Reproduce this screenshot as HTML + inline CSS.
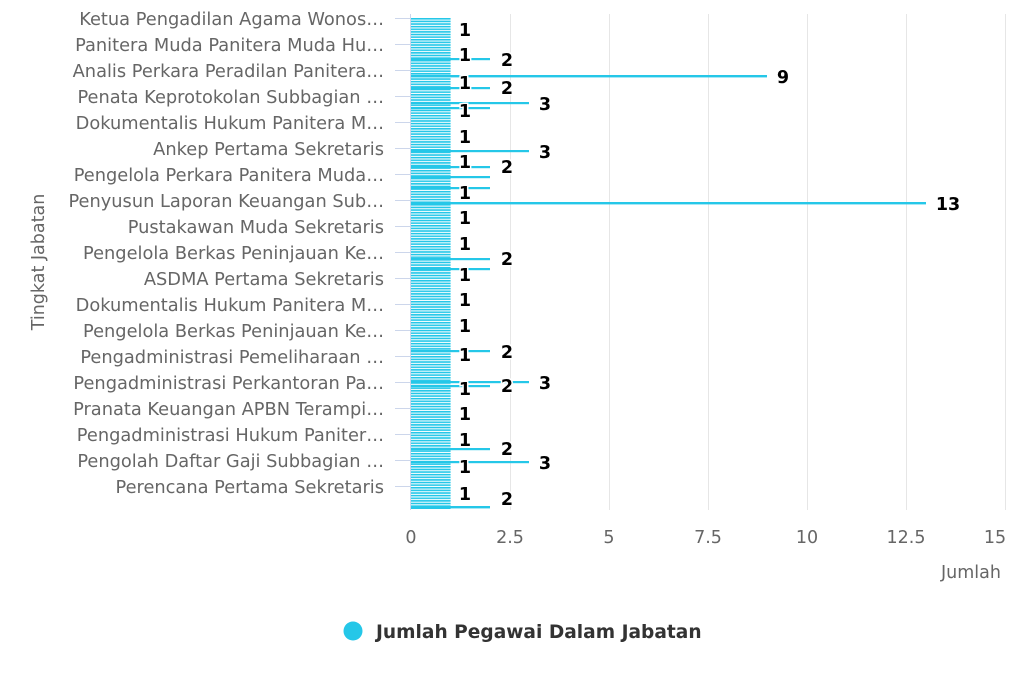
<!DOCTYPE html>
<html><head><meta charset="utf-8"><style>
body{margin:0;background:#fff;}
svg{display:block;font-family:"DejaVu Sans","Liberation Sans",sans-serif;}
</style></head><body>
<svg width="1024" height="683" viewBox="0 0 1024 683" xmlns="http://www.w3.org/2000/svg">
<defs>
<pattern id="st" x="0" y="18" width="40" height="2.62" patternUnits="userSpaceOnUse">
<rect x="0" y="0" width="40" height="1.6" fill="#25c7e8"/>
</pattern>
</defs>
<rect width="1024" height="683" fill="#fff"/>
<g stroke="#e6e6e6" stroke-width="1">
<line x1="510.5" y1="14" x2="510.5" y2="510"/>
<line x1="609.5" y1="14" x2="609.5" y2="510"/>
<line x1="708.5" y1="14" x2="708.5" y2="510"/>
<line x1="807.5" y1="14" x2="807.5" y2="510"/>
<line x1="906.5" y1="14" x2="906.5" y2="510"/>
<line x1="1005.5" y1="14" x2="1005.5" y2="510"/>
</g>
<g stroke="#ccd6eb" stroke-width="1">
<line x1="410.5" y1="14" x2="410.5" y2="510"/>
<line x1="395" y1="18.5" x2="410" y2="18.5"/><line x1="395" y1="44.5" x2="410" y2="44.5"/>
<line x1="395" y1="70.5" x2="410" y2="70.5"/><line x1="395" y1="96.5" x2="410" y2="96.5"/>
<line x1="395" y1="122.5" x2="410" y2="122.5"/><line x1="395" y1="148.5" x2="410" y2="148.5"/>
<line x1="395" y1="174.5" x2="410" y2="174.5"/><line x1="395" y1="200.5" x2="410" y2="200.5"/>
<line x1="395" y1="226.5" x2="410" y2="226.5"/><line x1="395" y1="252.5" x2="410" y2="252.5"/>
<line x1="395" y1="278.5" x2="410" y2="278.5"/><line x1="395" y1="304.5" x2="410" y2="304.5"/>
<line x1="395" y1="330.5" x2="410" y2="330.5"/><line x1="395" y1="356.5" x2="410" y2="356.5"/>
<line x1="395" y1="382.5" x2="410" y2="382.5"/><line x1="395" y1="408.5" x2="410" y2="408.5"/>
<line x1="395" y1="434.5" x2="410" y2="434.5"/><line x1="395" y1="460.5" x2="410" y2="460.5"/>
<line x1="395" y1="486.5" x2="410" y2="486.5"/>
</g>
<rect x="411" y="18" width="39.6" height="491" fill="url(#st)"/>
<g fill="#25c7e8">
<rect x="411" y="58" width="79" height="2.2"/>
<rect x="411" y="75" width="356" height="2.4"/>
<rect x="411" y="87" width="79" height="2.2"/>
<rect x="411" y="102" width="118" height="2.2"/>
<rect x="411" y="107" width="79" height="2.2"/>
<rect x="411" y="150" width="118" height="2.2"/>
<rect x="411" y="166" width="79" height="2.2"/>
<rect x="411" y="176" width="79" height="2.2"/>
<rect x="411" y="187" width="79" height="2.2"/>
<rect x="411" y="202" width="515" height="2.4"/>
<rect x="411" y="258" width="79" height="2.2"/>
<rect x="411" y="268" width="79" height="2.2"/>
<rect x="411" y="350" width="79" height="2.2"/>
<rect x="411" y="381" width="118" height="2.2"/>
<rect x="411" y="385" width="79" height="2.2"/>
<rect x="411" y="448" width="79" height="2.2"/>
<rect x="411" y="461" width="118" height="2.2"/>
<rect x="411" y="506" width="79" height="2.4"/>
</g>
<g font-size="17.8" fill="#666" text-anchor="end">
<text x="384" y="25">Ketua Pengadilan Agama Wonos…</text>
<text x="384" y="51">Panitera Muda Panitera Muda Hu…</text>
<text x="384" y="77">Analis Perkara Peradilan Panitera…</text>
<text x="384" y="103">Penata Keprotokolan Subbagian …</text>
<text x="384" y="129">Dokumentalis Hukum Panitera M…</text>
<text x="384" y="155">Ankep Pertama Sekretaris</text>
<text x="384" y="181">Pengelola Perkara Panitera Muda…</text>
<text x="384" y="207">Penyusun Laporan Keuangan Sub…</text>
<text x="384" y="233">Pustakawan Muda Sekretaris</text>
<text x="384" y="259">Pengelola Berkas Peninjauan Ke…</text>
<text x="384" y="285">ASDMA Pertama Sekretaris</text>
<text x="384" y="311">Dokumentalis Hukum Panitera M…</text>
<text x="384" y="337">Pengelola Berkas Peninjauan Ke…</text>
<text x="384" y="363">Pengadministrasi Pemeliharaan …</text>
<text x="384" y="389">Pengadministrasi Perkantoran Pa…</text>
<text x="384" y="415">Pranata Keuangan APBN Terampi…</text>
<text x="384" y="441">Pengadministrasi Hukum Paniter…</text>
<text x="384" y="467">Pengolah Daftar Gaji Subbagian …</text>
<text x="384" y="493">Perencana Pertama Sekretaris</text>
</g>
<g font-size="17.5" font-weight="bold" fill="#000" stroke="#fff" stroke-width="3" paint-order="stroke" text-anchor="middle">
<text x="465" y="36">1</text><text x="465" y="61">1</text><text x="465" y="89">1</text>
<text x="465" y="117">1</text><text x="465" y="143">1</text><text x="465" y="168">1</text>
<text x="465" y="199">1</text><text x="465" y="224">1</text><text x="465" y="250">1</text>
<text x="465" y="281">1</text><text x="465" y="306">1</text><text x="465" y="332">1</text>
<text x="465" y="361">1</text><text x="465" y="395">1</text><text x="465" y="420">1</text>
<text x="465" y="446">1</text><text x="465" y="473">1</text><text x="465" y="500">1</text>
<text x="507" y="66">2</text><text x="783" y="83">9</text><text x="507" y="94">2</text>
<text x="545" y="110">3</text><text x="545" y="158">3</text><text x="507" y="173">2</text>
<text x="948" y="210">13</text><text x="507" y="265">2</text><text x="507" y="358">2</text>
<text x="545" y="389">3</text><text x="507" y="392">2</text><text x="507" y="455">2</text>
<text x="545" y="469">3</text><text x="507" y="505">2</text>
</g>
<g font-size="17.5" fill="#666" text-anchor="middle">
<text x="411" y="543">0</text><text x="510" y="543">2.5</text><text x="609" y="543">5</text>
<text x="708" y="543">7.5</text><text x="807" y="543">10</text><text x="906" y="543">12.5</text>
<text x="995" y="543">15</text>
<text x="971" y="578">Jumlah</text>
<text transform="translate(44,262) rotate(-90)">Tingkat Jabatan</text>
</g>
<circle cx="353" cy="631" r="9.5" fill="#25c7e8"/>
<text x="376" y="638" font-size="18.6" font-weight="bold" fill="#333">Jumlah Pegawai Dalam Jabatan</text>
</svg>
</body></html>
